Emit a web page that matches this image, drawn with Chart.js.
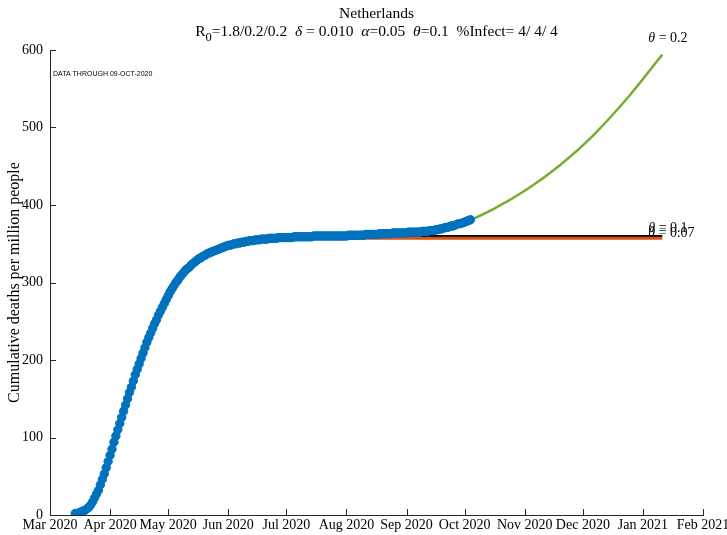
<!DOCTYPE html>
<html>
<head>
<meta charset="utf-8">
<script src="https://cdn.jsdelivr.net/npm/chart.js@4.4.1/dist/chart.umd.min.js"></script>
<style>
    html, body { margin: 0; padding: 0; background: #fff; }
    #wrap { width: 727px; height: 535px; position: relative; }
</style>
</head>
<body>
<div id="wrap"><canvas id="chart" width="727" height="535"></canvas></div>
<script>
// x values are days since 1 Mar 2020
const monthDays = [0, 31, 61, 92, 122, 153, 184, 214, 245, 275, 306, 337];
const monthLabels = ["Mar 2020", "Apr 2020", "May 2020", "Jun 2020", "Jul 2020", "Aug 2020",
    "Sep 2020", "Oct 2020", "Nov 2020", "Dec 2020", "Jan 2021", "Feb 2021"];

// observed cumulative deaths per million, one value per day from day 13 (13 Mar)
const firstDataDay = 13;
const deaths = [
    2, 2, 3, 4, 5, 6, 8, 10,
    13, 17, 22, 27, 32, 39, 46, 53, 61, 69,
    77, 85, 94, 102, 110, 118, 126, 134, 142, 150,
    158, 165, 173, 181, 188, 195, 202, 209, 216, 223,
    229, 235, 241, 247, 252, 258, 263, 268, 273, 278,
    283, 288, 292, 296, 300, 303, 307, 310, 313, 316,
    318, 320, 323, 325, 327, 329, 331, 332, 334, 335,
    337, 338, 339, 340, 341, 342, 343, 344, 345, 346,
    347, 348, 348, 349, 350, 350, 351, 351, 352, 352,
    353, 353, 354, 354, 354, 355, 355, 355, 356, 356,
    356, 356, 357, 357, 357, 357, 357, 358, 358, 358,
    358, 358, 358, 358, 358, 359, 359, 359, 359, 359,
    359, 359, 359, 359, 359, 360, 360, 360, 360, 360,
    360, 360, 360, 360, 360, 360, 360, 360, 360, 360,
    360, 360, 360, 361, 361, 361, 361, 361, 361, 361,
    361, 361, 362, 362, 362, 362, 362, 362, 362, 363,
    363, 363, 363, 363, 363, 363, 364, 364, 364, 364,
    364, 364, 364, 364, 365, 365, 365, 365, 365, 365,
    365, 366, 366, 366, 366, 367, 367, 367, 368, 368,
    369, 369, 370, 371, 371, 372, 373, 373, 374, 375,
    376, 376, 377, 378, 379, 380, 381
];

// model projections
const modelDays = [13, 18, 22, 26, 30, 34, 38, 42, 46, 50, 55, 60, 65, 70, 78, 86, 95, 110, 130, 160, 190, 217, 229, 246, 263, 280, 298, 316];
const theta02 = [2, 6, 17, 39, 69, 102, 134, 165, 195, 223, 252, 278, 300, 316, 332, 342, 350, 356, 359, 361, 365, 381, 395, 420, 451, 489, 538, 594];
const theta01 = [2, 6, 17, 39, 69, 102, 134, 165, 195, 223, 252, 278, 300, 316, 332, 342, 350, 356, 359, 360, 360, 360, 360, 360, 360, 360, 360, 360];
const theta007 = [2, 6, 17, 39, 69, 102, 134, 165, 195, 223, 252, 278, 300, 316, 332, 342, 349, 355, 357, 357, 357, 357, 357, 357, 357, 357, 357, 357];

const BLUE = "#0072BD", GREEN = "#77AC30", ORANGE = "#D95319", AXIS = "#262626";
const SERIF = "'Liberation Serif', 'DejaVu Serif', serif";

const pts = (xs, ys) => ys.map((y, i) => ({ x: xs[i], y: y }));
const dataPts = deaths.map((v, i) => ({ x: firstDataDay + i, y: v }));

// draw a run of [text, style] pieces centred on cx
function drawRich(ctx, parts, cx, y, size) {
    const fontFor = p => (p[1] === "i" ? "italic " : "") + (p[1] === "sub" ? size - 3 : size) + "px " + SERIF;
    let total = 0;
    parts.forEach(p => { ctx.font = fontFor(p); total += ctx.measureText(p[0]).width; });
    let x = cx - total / 2;
    parts.forEach(p => {
        ctx.font = fontFor(p);
        ctx.fillText(p[0], x, p[1] === "sub" ? y + 5 : y);
        x += ctx.measureText(p[0]).width;
    });
    return total;
}

const decorPlugin = {
    id: "decor",
    afterDraw(chart) {
        const ctx = chart.ctx;
        const xs = chart.scales.x, ys = chart.scales.y;
        const area = chart.chartArea;
        ctx.save();
        ctx.fillStyle = "#000";
        ctx.textBaseline = "alphabetic";
        ctx.textAlign = "left";

        // titles
        const cx = (area.left + area.right) / 2;
        drawRich(ctx, [["Netherlands", "n"]], cx, 18, 15.5);
        drawRich(ctx, [
            ["R", "n"], ["0", "sub"], ["=1.8/0.2/0.2  ", "n"], ["\u03B4", "i"], [" = 0.010  ", "n"],
            ["\u03B1", "i"], ["=0.05  ", "n"], ["\u03B8", "i"], ["=0.1  %Infect= 4/ 4/ 4", "n"]
        ], cx, 36, 15.5);

        // inward tick marks
        ctx.strokeStyle = AXIS;
        ctx.lineWidth = 1;
        ctx.beginPath();
        xs.ticks.forEach(t => {
            const px = Math.round(xs.getPixelForValue(t.value)) + 0.5;
            ctx.moveTo(px, area.bottom);
            ctx.lineTo(px, area.bottom - 6);
        });
        ys.ticks.forEach(t => {
            const py = Math.round(ys.getPixelForValue(t.value)) + 0.5;
            ctx.moveTo(area.left, py);
            ctx.lineTo(area.left + 6, py);
        });
        ctx.stroke();

        // y axis title
        ctx.save();
        ctx.translate(19, (area.top + area.bottom) / 2);
        ctx.rotate(-Math.PI / 2);
        ctx.textAlign = "center";
        ctx.font = "16px " + SERIF;
        ctx.fillText("Cumulative deaths per million people", 0, 0);
        ctx.restore();

        // data note
        ctx.font = "7px 'Liberation Sans', Arial, sans-serif";
        ctx.fillText("DATA THROUGH 09-OCT-2020", area.left + 3, 76);

        // curve labels
        const last = modelDays.length - 1;
        const ex = xs.getPixelForValue(modelDays[last]) - 14;
        const labels = [
            [theta02[last], -13, "0.2"],
            [theta01[last], -4, "0.1"],
            [theta007[last], -1, "0.07"]
        ];
        labels.forEach(l => {
            const y = ys.getPixelForValue(l[0]) + l[1];
            ctx.font = "italic 14px " + SERIF;
            ctx.fillText("\u03B8", ex, y);
            const w = ctx.measureText("\u03B8").width;
            ctx.font = "14px " + SERIF;
            ctx.fillText(" = " + l[2], ex + w, y);
        });
        ctx.restore();
    }
};

new Chart(document.getElementById("chart"), {
    type: "scatter",
    data: {
        datasets: [
            {
                label: "data",
                data: dataPts,
                showLine: false,
                pointRadius: 4.2,
                pointBorderWidth: 1,
                pointBackgroundColor: BLUE,
                pointBorderColor: BLUE,
                order: 0
            },
            {
                label: "theta 0.07",
                data: pts(modelDays, theta007),
                showLine: true,
                borderColor: ORANGE,
                borderWidth: 3,
                pointRadius: 0,
                cubicInterpolationMode: "monotone",
                order: 1
            },
            {
                label: "theta 0.1",
                data: pts(modelDays, theta01),
                showLine: true,
                borderColor: "#000",
                borderWidth: 2.2,
                pointRadius: 0,
                cubicInterpolationMode: "monotone",
                order: 2
            },
            {
                label: "theta 0.2",
                data: pts(modelDays, theta02),
                showLine: true,
                borderColor: GREEN,
                borderWidth: 2.5,
                pointRadius: 0,
                cubicInterpolationMode: "monotone",
                order: 3
            }
        ]
    },
    options: {
        responsive: false,
        animation: false,
        layout: { padding: { left: 0, right: 24, top: 50, bottom: 0 } },
        plugins: {
            legend: { display: false },
            tooltip: { enabled: false },
            title: { display: false }
        },
        scales: {
            x: {
                type: "linear",
                min: 0,
                max: 337,
                afterBuildTicks: scale => { scale.ticks = monthDays.map(v => ({ value: v })); },
                afterFit: scale => { scale.height = 20; scale.paddingLeft = 0; scale.paddingRight = 0; },
                grid: { display: false, drawTicks: false },
                border: { display: true, color: AXIS, width: 1 },
                ticks: {
                    color: "#000",
                    padding: 2,
                    maxRotation: 0,
                    autoSkip: false,
                    font: { family: SERIF, size: 14 },
                    callback: (v, i) => monthLabels[i]
                }
            },
            y: {
                min: 0,
                max: 600,
                afterFit: scale => { scale.width = 50; },
                grid: { display: false, drawTicks: false },
                border: { display: true, color: AXIS, width: 1 },
                ticks: {
                    stepSize: 100,
                    color: "#000",
                    padding: 7,
                    font: { family: SERIF, size: 14 }
                }
            }
        }
    },
    plugins: [decorPlugin]
});
</script>
</body>
</html>
